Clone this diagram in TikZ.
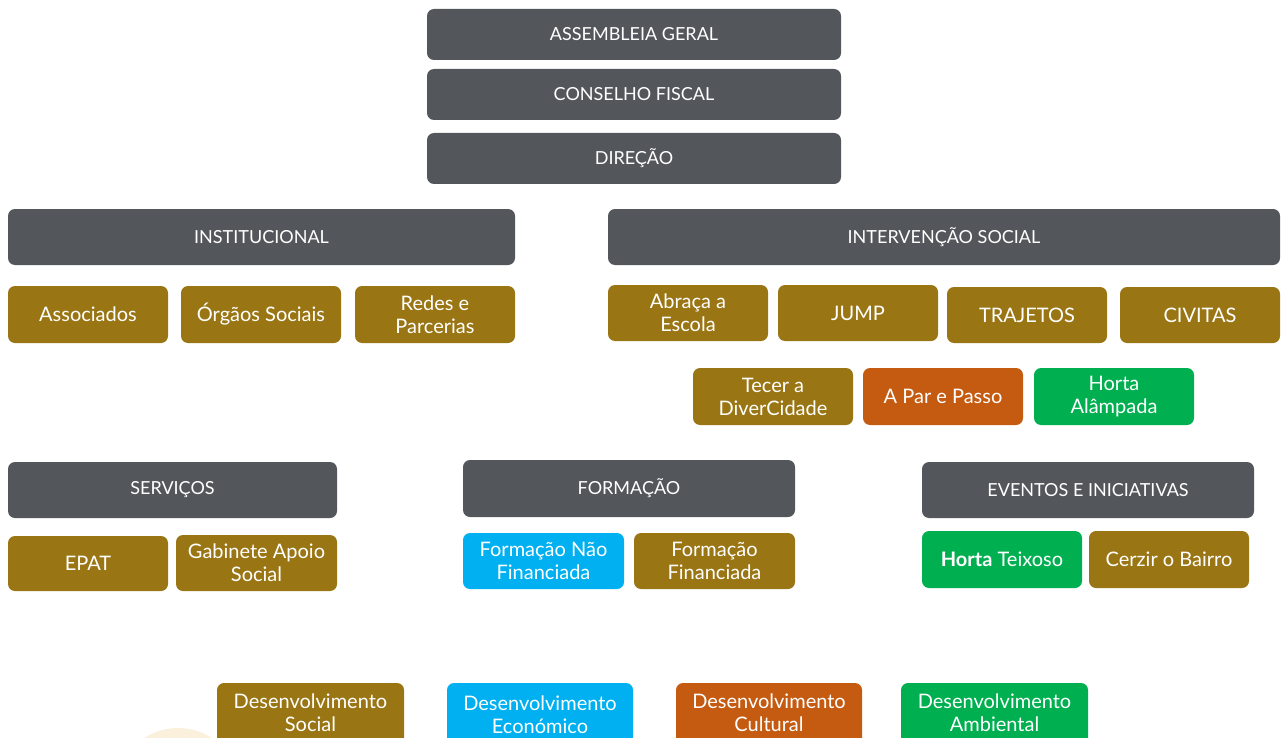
\documentclass[tikz,border=0pt]{standalone}
\usepackage{fontspec}
\setmainfont{Lato}
\definecolor{gr}{HTML}{53565B}
\definecolor{ol}{HTML}{9A7514}
\definecolor{bl}{HTML}{00B0F0}
\definecolor{orn}{HTML}{C55A11}
\definecolor{grn}{HTML}{00B050}
\definecolor{beige}{HTML}{FAF0DC}
\tikzset{
  box/.style={rounded corners=7pt, text=white, align=center, inner sep=0pt, font=\fontsize{20}{23}\selectfont},
  hbox/.style={box, fill=gr, font=\fontsize{18}{21}\selectfont},
  obox/.style={box, fill=ol},
  bbox/.style={box, fill=bl},
  rbox/.style={box, fill=orn},
  gbox/.style={box, fill=grn},
}
\newcommand{\bx}[7]{% style, name, x1, y1, x2, y2, text
  \node[#1, minimum width={#5-#3}, minimum height={#6-#4}] (#2) at ({(#3+#5)/2},{(#4+#6)/2}) {#7};}
\begin{document}
\begin{tikzpicture}[x=1pt,y=-1pt]
\useasboundingbox (0,0) rectangle (1281,738);
\begin{scope}
\clip (0,0) rectangle (1281,738);
\fill[beige] (178,790) circle (62);
\bx{hbox}{ag}{427}{9}{841}{60}{ASSEMBLEIA GERAL}
\bx{hbox}{cf}{427}{69}{841}{120}{CONSELHO FISCAL}
\bx{hbox}{dir}{427}{133}{841}{184}{DIREÇÃO}
\bx{hbox}{inst}{8}{209}{515}{265}{INSTITUCIONAL}
\bx{hbox}{inter}{608}{209}{1280}{265}{INTERVENÇÃO SOCIAL}
\bx{obox}{assoc}{8}{286}{168}{343}{Associados}
\bx{obox}{orgaos}{181}{286}{341}{343}{Órgãos Sociais}
\bx{obox}{redes}{355}{286}{515}{343}{Redes e\\Parcerias}
\bx{obox}{abraca}{608}{285}{768}{341}{Abraça a\\Escola}
\bx{obox}{jump}{778}{285}{938}{341}{JUMP}
\bx{obox}{traj}{947}{287}{1107}{343}{TRAJETOS}
\bx{obox}{civ}{1120}{287}{1280}{343}{CIVITAS}
\bx{obox}{tecer}{693}{368}{853}{425}{Tecer a\\DiverCidade}
\bx{rbox}{apar}{863}{368}{1023}{425}{A Par e Passo}
\bx{gbox}{halam}{1034}{368}{1194}{425}{Horta\\Alâmpada}
\bx{hbox}{serv}{8}{462}{337}{518}{SERVIÇOS}
\bx{hbox}{form}{463}{460}{795}{517}{FORMAÇÃO}
\bx{hbox}{event}{922}{462}{1254}{518}{EVENTOS E INICIATIVAS}
\bx{obox}{epat}{8}{536}{168}{591}{EPAT}
\bx{obox}{gab}{176}{535}{337}{591}{Gabinete Apoio\\Social}
\bx{bbox}{fnf}{463}{533}{624}{589}{Formação Não\\Financiada}
\bx{obox}{ff}{634}{533}{795}{589}{Formação\\Financiada}
\bx{gbox}{htx}{922}{531}{1082}{588}{\textbf{Horta} Teixoso}
\bx{obox}{cerzir}{1089}{531}{1249}{588}{Cerzir o Bairro}
\bx{obox}{ds}{217}{683}{404}{746}{Desenvolvimento\\Social\vphantom{p}}
\bx{bbox}{de}{447}{683}{633}{746}{Desenvolvimento\\Económico}
\bx{rbox}{dc}{676}{683}{862}{746}{Desenvolvimento\\Cultural\vphantom{p}}
\bx{gbox}{da}{901}{683}{1088}{746}{Desenvolvimento\\Ambiental\vphantom{p}}
\end{scope}
\end{tikzpicture}
\end{document}
